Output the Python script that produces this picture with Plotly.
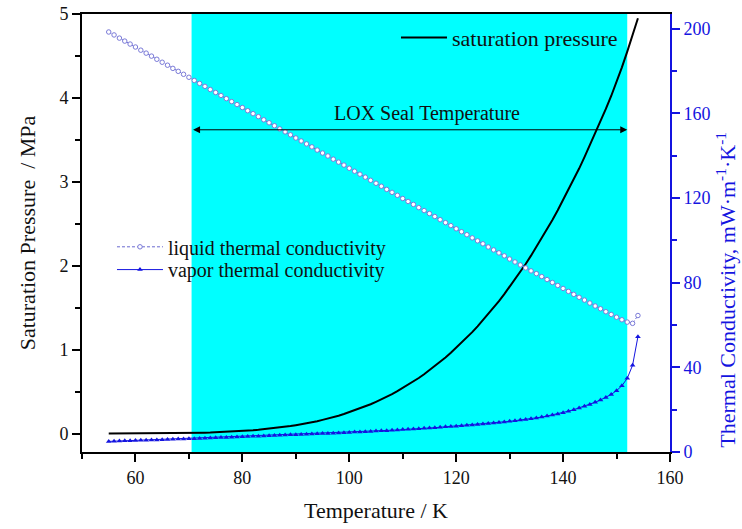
import plotly.graph_objects as go

# Temperature grid (K)
temperature = list(range(55, 155))

# Saturation pressure of oxygen (MPa)
p_sat = [
    0.00018, 0.00024, 0.00031, 0.00041, 0.00055, 0.00073, 0.00092, 0.00116, 0.00146, 0.00185,
    0.00233, 0.00284, 0.00346, 0.00422, 0.00514, 0.00626, 0.0074, 0.0088, 0.0104, 0.0123,
    0.0145, 0.0168, 0.0194, 0.0225, 0.0260, 0.0301, 0.0342, 0.0388, 0.0440, 0.0500,
    0.0568, 0.0635, 0.0710, 0.0794, 0.0888, 0.0994, 0.1097, 0.1211, 0.1337, 0.1476,
    0.163, 0.178, 0.1946, 0.2127, 0.2324, 0.254, 0.275, 0.2977, 0.3224, 0.349,
    0.378, 0.4064, 0.4369, 0.4697, 0.505, 0.543, 0.580, 0.6195, 0.6617, 0.7068,
    0.755, 0.8021, 0.8522, 0.9053, 0.9618, 1.022, 1.0807, 1.1427, 1.2083, 1.2777,
    1.351, 1.4226, 1.498, 1.5775, 1.661, 1.749, 1.835, 1.926, 2.021, 2.120,
    2.225, 2.327, 2.434, 2.545, 2.662, 2.784, 2.904, 3.028, 3.158, 3.294,
    3.436, 3.574, 3.718, 3.868, 4.023, 4.185, 4.364, 4.552, 4.747, 4.95,
]

# Liquid thermal conductivity (mW/(m K))
k_liquid = [
    198.5, 197.1, 195.6, 194.2, 192.8, 191.4, 189.9, 188.5, 187.1, 185.6,
    184.2, 182.8, 181.3, 179.9, 178.5, 177.1, 175.6, 174.2, 172.8, 171.3,
    169.9, 168.5, 167.0, 165.6, 164.2, 162.8, 161.3, 159.9, 158.5, 157.0,
    155.6, 154.2, 152.7, 151.3, 149.9, 148.4, 147.0, 145.6, 144.2, 142.7,
    141.3, 139.9, 138.4, 137.0, 135.6, 134.1, 132.7, 131.3, 129.9, 128.4,
    127.0, 125.6, 124.1, 122.7, 121.3, 119.8, 118.4, 117.0, 115.5, 114.1,
    112.7, 111.3, 109.8, 108.4, 107.0, 105.5, 104.1, 102.7, 101.2, 99.8,
    98.4, 96.9, 95.5, 94.1, 92.7, 91.2, 89.8, 88.4, 87.0, 85.6,
    84.3, 82.9, 81.5, 80.1, 78.7, 77.3, 75.9, 74.5, 73.1, 71.8,
    70.4, 69.0, 67.7, 66.3, 65.0, 63.7, 62.5, 61.4, 60.8, 64.5,
]

# Vapor thermal conductivity (mW/(m K))
k_vapor = [
    5.0, 5.1, 5.2, 5.3, 5.3, 5.4, 5.5, 5.6, 5.7, 5.7,
    5.8, 5.9, 6.0, 6.1, 6.2, 6.3, 6.3, 6.4, 6.5, 6.6,
    6.7, 6.8, 6.9, 7.0, 7.1, 7.2, 7.3, 7.4, 7.5, 7.6,
    7.7, 7.8, 7.9, 8.0, 8.1, 8.2, 8.3, 8.4, 8.5, 8.6,
    8.7, 8.8, 8.9, 9.0, 9.1, 9.2, 9.4, 9.5, 9.6, 9.7,
    9.9, 10.0, 10.1, 10.3, 10.4, 10.6, 10.7, 10.9, 11.0, 11.2,
    11.3, 11.5, 11.7, 11.9, 12.0, 12.2, 12.4, 12.6, 12.8, 13.0,
    13.2, 13.5, 13.7, 13.9, 14.2, 14.5, 14.8, 15.1, 15.4, 15.7,
    16.1, 16.5, 17.0, 17.5, 18.0, 18.6, 19.3, 20.0, 20.8, 21.6,
    22.5, 23.5, 24.6, 25.8, 27.2, 29.0, 31.3, 34.8, 41.0, 54.5,
]

# LOX seal operating temperature window (K)
seal_range = [70.5, 152.0]
arrow_level = 3.62   # MPa, height of the range arrow
label_temp = 114.5   # K, horizontal centre of the range label
seal_label = "LOX Seal Temperature"

FONT = "Liberation Serif"
BLUE = "#1414e0"
TEXT = "#111111"

fig = go.Figure()

fig.add_trace(go.Scatter(
    x=temperature, y=p_sat, mode="lines", name="saturation pressure",
    line=dict(color="black", width=2), legend="legend",
))
fig.add_trace(go.Scatter(
    x=temperature, y=k_liquid, mode="lines+markers", name="liquid thermal conductivity",
    yaxis="y2", legend="legend2",
    line=dict(color="#6a6ad0", width=1, dash="3px,2px"),
    marker=dict(symbol="circle", size=4.5, color="white", line=dict(color="#7a7ad8", width=1)),
))
fig.add_trace(go.Scatter(
    x=temperature, y=k_vapor, mode="lines+markers", name="vapor thermal conductivity",
    yaxis="y2", legend="legend3",
    line=dict(color=BLUE, width=1),
    marker=dict(symbol="triangle-up", size=5, color=BLUE),
))

# Seal temperature band
fig.add_shape(type="rect", xref="x", yref="paper", x0=seal_range[0], x1=seal_range[1],
              y0=0, y1=1, fillcolor="#00ffff", line=dict(width=0), layer="below")

# Double-headed arrow spanning the band
fig.add_annotation(x=seal_range[1], y=arrow_level, ax=seal_range[0], ay=arrow_level,
                   xref="x", yref="y", axref="x", ayref="y", text="", showarrow=True,
                   arrowside="end+start", arrowhead=2, startarrowhead=2,
                   arrowsize=1.4, startarrowsize=1.4, arrowwidth=1, arrowcolor="black",
                   standoff=0, startstandoff=0)
fig.add_annotation(x=label_temp, y=arrow_level, xref="x", yref="y", text=seal_label,
                   showarrow=False, yshift=16, font=dict(family=FONT, size=20, color=TEXT))

# Right-hand axis title
fig.add_annotation(x=1.122, y=0.37, xref="paper", yref="paper", textangle=-90,
                   text="Thermal Conductivity, mW·m<sup>-1</sup>·K<sup>-1</sup>",
                   showarrow=False, font=dict(family=FONT, size=22, color=BLUE))

legend_font = dict(family=FONT, size=20, color=TEXT)

fig.update_layout(
    width=742, height=529,
    margin=dict(l=82, r=72, t=14, b=77),
    paper_bgcolor="white", plot_bgcolor="white",
    font=dict(family=FONT, size=18, color=TEXT),
    xaxis=dict(
        range=[50, 160], tickvals=[60, 80, 100, 120, 140, 160], automargin=False,
        showgrid=False, zeroline=False, showline=True, linecolor="black", linewidth=2,
        mirror=True, ticks="outside", ticklen=8, tickwidth=1.5, tickcolor="black",
        minor=dict(dtick=10, ticklen=5, tickwidth=1.5, tickcolor="black", ticks="outside"),
        title=dict(text="Temperature / K", font=dict(size=22), standoff=16),
    ),
    yaxis=dict(
        range=[-0.22, 5], tickvals=[0, 1, 2, 3, 4, 5], automargin=False,
        showgrid=False, zeroline=False, showline=True, linecolor="black", linewidth=2,
        ticks="outside", ticklen=8, tickwidth=1.5, tickcolor="black",
        minor=dict(dtick=0.5, tick0=0, ticklen=5, tickwidth=1.5, tickcolor="black", ticks="outside"),
        title=dict(text="Saturation Pressure  / MPa", font=dict(size=22), standoff=18),
    ),
    yaxis2=dict(
        overlaying="y", side="right", range=[0, 207], automargin=False,
        tickvals=[0, 40, 80, 120, 160, 200],
        showgrid=False, zeroline=False, showline=True, linecolor=BLUE, linewidth=2,
        ticks="outside", ticklen=8, tickwidth=1.5, tickcolor=BLUE,
        minor=dict(dtick=20, ticklen=5, tickwidth=1.5, tickcolor=BLUE, ticks="outside"),
        tickfont=dict(color=BLUE),
    ),
    legend=dict(x=0.534, y=0.994, xanchor="left", yanchor="top", itemwidth=46,
                bgcolor="rgba(0,0,0,0)", font=dict(family=FONT, size=22, color=TEXT)),
    legend2=dict(x=0.051, y=0.513, xanchor="left", yanchor="top", itemwidth=46,
                 bgcolor="rgba(0,0,0,0)", font=legend_font),
    legend3=dict(x=0.051, y=0.461, xanchor="left", yanchor="top", itemwidth=46,
                 bgcolor="rgba(0,0,0,0)", font=legend_font),
    showlegend=True,
)

fig.write_html("out.html")
